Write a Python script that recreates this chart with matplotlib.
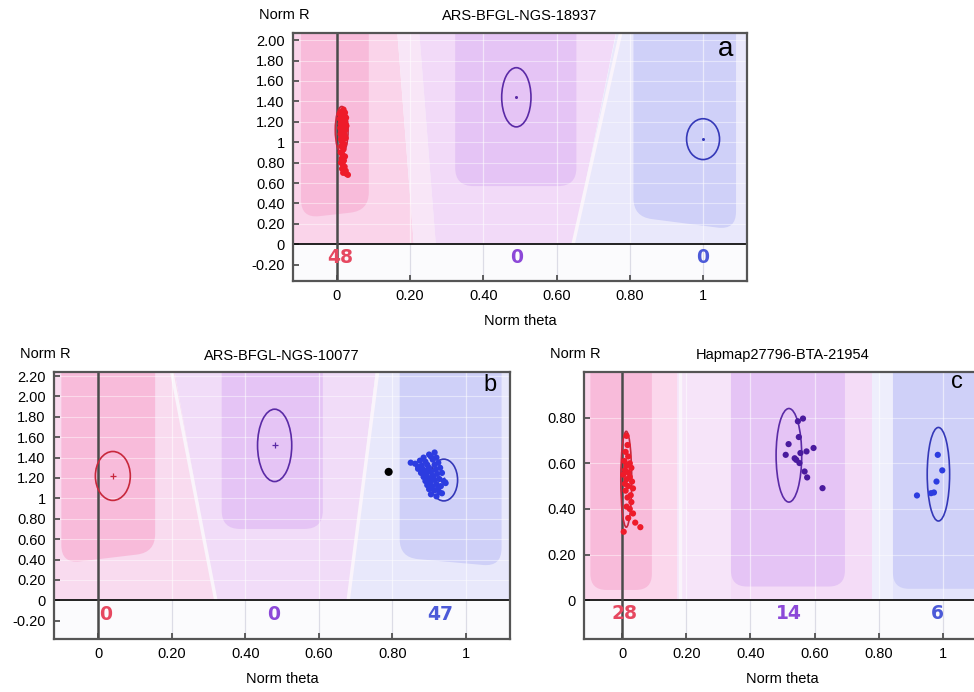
import numpy as np
import matplotlib
matplotlib.use('Agg')
import matplotlib.pyplot as plt
from matplotlib.patches import Ellipse, Polygon, PathPatch
from matplotlib.path import Path
from matplotlib.ticker import FuncFormatter

plt.rcParams['font.family'] = ['Liberation Sans', 'DejaVu Sans']

# ---------------- data ----------------
# panel a : ARS-BFGL-NGS-18937
a_title = 'ARS-BFGL-NGS-18937'
a_counts = [48, 0, 0]
a_yticks = [-0.2, 0, 0.2, 0.4, 0.6, 0.8, 1.0, 1.2, 1.4, 1.6, 1.8, 2.0]
a_aa_theta = [0.018, 0.012, 0.022, 0.010, 0.020, 0.015, 0.025, 0.008, 0.018, 0.012,
              0.022, 0.016, 0.010, 0.024, 0.014, 0.020, 0.009, 0.017, 0.023, 0.012,
              0.019, 0.015, 0.010, 0.021, 0.013, 0.018, 0.024, 0.011, 0.016, 0.014,
              0.020, 0.012, 0.018, 0.010, 0.015, 0.022, 0.013, 0.019, 0.011, 0.016,
              0.021, 0.014, 0.024, 0.017, 0.026, 0.030, 0.008, 0.026]
a_aa_r = [1.32, 1.30, 1.29, 1.27, 1.26, 1.25, 1.24, 1.23, 1.22, 1.21,
          1.20, 1.19, 1.18, 1.17, 1.16, 1.15, 1.14, 1.13, 1.12, 1.11,
          1.10, 1.09, 1.08, 1.07, 1.06, 1.05, 1.04, 1.03, 1.02, 1.00,
          0.98, 0.96, 0.93, 0.90, 0.88, 0.86, 0.84, 0.82, 0.80, 0.78,
          0.76, 0.74, 0.72, 0.70, 0.69, 0.68, 1.28, 1.16]
a_ell_theta = [0.013, 0.49, 1.0]
a_ell_r = [1.12, 1.44, 1.03]
a_ell_w = [0.035, 0.08, 0.09]
a_ell_h = [0.46, 0.58, 0.40]

# panel b : ARS-BFGL-NGS-10077
b_title = 'ARS-BFGL-NGS-10077'
b_counts = [0, 0, 47]
b_yticks = [-0.2, 0, 0.2, 0.4, 0.6, 0.8, 1.0, 1.2, 1.4, 1.6, 1.8, 2.0, 2.2]
b_bb_theta = [0.862, 0.875, 0.885, 0.900, 0.915, 0.905, 0.890, 0.880, 0.895, 0.910,
              0.920, 0.870, 0.885, 0.900, 0.915, 0.925, 0.878, 0.892, 0.905, 0.918,
              0.930, 0.885, 0.898, 0.910, 0.922, 0.935, 0.890, 0.903, 0.915, 0.928,
              0.940, 0.895, 0.908, 0.920, 0.932, 0.945, 0.900, 0.915, 0.928, 0.905,
              0.920, 0.935, 0.870, 0.893, 0.912, 0.925, 0.850]
b_bb_r = [1.34, 1.37, 1.40, 1.43, 1.45, 1.41, 1.36, 1.32, 1.33, 1.38,
          1.40, 1.29, 1.28, 1.30, 1.33, 1.35, 1.25, 1.24, 1.26, 1.28,
          1.30, 1.21, 1.20, 1.22, 1.24, 1.25, 1.17, 1.16, 1.18, 1.19,
          1.17, 1.13, 1.12, 1.14, 1.12, 1.15, 1.09, 1.08, 1.06, 1.04,
          1.02, 1.05, 1.31, 1.27, 1.20, 1.10, 1.35]
b_nc_theta = [0.79]
b_nc_r = [1.26]
b_ell_theta = [0.04, 0.48, 0.94]
b_ell_r = [1.22, 1.52, 1.18]
b_ell_w = [0.095, 0.093, 0.075]
b_ell_h = [0.48, 0.71, 0.41]

# panel c : Hapmap27796-BTA-21954
c_title = 'Hapmap27796-BTA-21954'
c_counts = [28, 14, 6]
c_yticks = [0, 0.2, 0.4, 0.6, 0.8]
c_aa_theta = [0.013, 0.016, 0.010, 0.018, 0.006, 0.023, 0.013, 0.028, 0.008, 0.018,
              0.003, 0.023, 0.013, 0.030, 0.008, 0.018, 0.033, 0.010, 0.026, 0.016,
              0.028, 0.013, 0.023, 0.033, 0.018, 0.040, 0.056, 0.004]
c_aa_r = [0.72, 0.68, 0.65, 0.63, 0.61, 0.60, 0.59, 0.58, 0.57, 0.56,
          0.55, 0.54, 0.53, 0.52, 0.51, 0.50, 0.49, 0.48, 0.46, 0.45,
          0.43, 0.41, 0.40, 0.38, 0.36, 0.34, 0.32, 0.30]
c_ab_theta = [0.564, 0.548, 0.551, 0.519, 0.510, 0.543, 0.556, 0.575, 0.597, 0.553,
              0.569, 0.577, 0.625, 0.538]
c_ab_r = [0.796, 0.784, 0.715, 0.684, 0.637, 0.615, 0.645, 0.652, 0.667, 0.601,
          0.564, 0.538, 0.491, 0.622]
c_bb_theta = [0.985, 0.999, 0.981, 0.973, 0.964, 0.920]
c_bb_r = [0.637, 0.569, 0.520, 0.472, 0.469, 0.459]
c_ell_theta = [0.012, 0.52, 0.987]
c_ell_r = [0.53, 0.635, 0.552]
c_ell_w = [0.034, 0.08, 0.07]
c_ell_h = [0.42, 0.41, 0.41]

xticks = [0, 0.2, 0.4, 0.6, 0.8, 1.0]

# ---------------- styling ----------------
W, H = 974, 692
pt_col = ['#ee1b2a', '#4a1a9e', '#2c3ce0']
ell_col = ['#c8283c', '#5a2aa6', '#3438b8']
cnt_col = ['#e64860', '#8c48d8', '#4c5ad8']
box_col = ['#f8bbda', '#e5c4f5', '#cfd0f8']

layout = {
    'a': dict(rect=(293, 747, 33, 281), ylim=(-0.36, 2.07), count_y=-0.125,
              count_x=[0.01, 0.49, 1.0], letter=(0.952, 0.935), letter_size=20,
              center='.',
              zones=[([(-0.12, 0), (0.21, 0), (0.16, 2.3), (-0.12, 2.3)], '#fad4ea'),
                     ([(0.21, 0), (0.27, 0), (0.22, 2.3), (0.16, 2.3)], '#f8e6f7'),
                     ([(0.27, 0), (0.645, 0), (0.775, 2.3), (0.22, 2.3)], '#f2daf8'),
                     ([(0.645, 0), (1.2, 0), (1.2, 2.3), (0.775, 2.3)], '#e9e8fb')],
              lines=[((0.645, 0), (0.775, 2.07))],
              boxes=[(-0.098, 0.087, 0.255, 0.33), (0.323, 0.654, 0.57, 0.57),
                     (0.81, 1.09, 0.27, 0.14)]),
    'b': dict(rect=(54, 510, 372, 639), ylim=(-0.38, 2.24), count_y=-0.138,
              count_x=[0.02, 0.478, 0.93], letter=(0.956, 0.95), letter_size=17,
              center='+',
              zones=[([(-0.12, 0), (0.32, 0), (0.20, 2.4), (-0.12, 2.4)], '#f9dbef'),
                     ([(0.32, 0), (0.68, 0), (0.76, 2.4), (0.20, 2.4)], '#f1dcf8'),
                     ([(0.68, 0), (1.2, 0), (1.2, 2.4), (0.76, 2.4)], '#e8e8fb')],
              lines=[((0.32, 0), (0.20, 2.24)), ((0.68, 0), (0.76, 2.24))],
              boxes=[(-0.10, 0.155, 0.36, 0.47), (0.336, 0.611, 0.70, 0.70),
                     (0.82, 1.097, 0.42, 0.33)]),
    'c': dict(rect=(584, 981, 372, 639), ylim=(-0.17, 1.0), count_y=-0.059,
              count_x=[0.008, 0.52, 0.983], letter=(0.94, 0.962), letter_size=17,
              center=None,
              zones=[([(-0.12, 0), (0.17, 0), (0.17, 1.1), (-0.12, 1.1)], '#fbd7ec'),
                     ([(0.17, 0), (0.34, 0), (0.34, 1.1), (0.17, 1.1)], '#f6e4f9'),
                     ([(0.34, 0), (0.78, 0), (0.78, 1.1), (0.34, 1.1)], '#f4dcf7'),
                     ([(0.78, 0), (0.845, 0), (0.845, 1.1), (0.78, 1.1)], '#eeeefc'),
                     ([(0.845, 0), (1.2, 0), (1.2, 1.1), (0.845, 1.1)], '#e4e4fb')],
              lines=[((0.18, 0), (0.18, 1.0))],
              boxes=[(-0.10, 0.092, 0.045, 0.045), (0.339, 0.695, 0.06, 0.06),
                     (0.845, 1.25, 0.05, 0.05)]),
}


def fmt(v, pos):
    if abs(v) < 1e-9 or abs(v - 1) < 1e-9:
        return str(int(round(v)))
    return f'{v:.2f}'


def rounded_box(x0, x1, yl, yr, top, rx, ry):
    s = (yr - yl) / (x1 - x0)
    verts = [(x0, top), (x0, yl + ry), (x0, yl), (x0 + rx, yl + s * rx),
             (x1 - rx, yr - s * rx), (x1, yr), (x1, yr + ry), (x1, top), (x0, top)]
    codes = [Path.MOVETO, Path.LINETO, Path.CURVE3, Path.CURVE3, Path.LINETO,
             Path.CURVE3, Path.CURVE3, Path.LINETO, Path.CLOSEPOLY]
    return Path(verts, codes)


def panel(key, title, yticks, groups, ells, counts, extra=None):
    lo = layout[key]
    l, r, t, b = lo['rect']
    ax = fig.add_axes([l / W, 1 - b / H, (r - l) / W, (b - t) / H])
    xlim = (-0.12, 1.12)
    ylim = lo['ylim']
    ax.set_xlim(*xlim)
    ax.set_ylim(*ylim)
    ax.set_facecolor('#fbfbfd')
    top = ylim[1] + 0.3

    for verts, col in lo['zones']:
        ax.add_patch(Polygon(verts, closed=True, fc=col, ec='none', zorder=0))
    for p0, p1 in lo['lines']:
        ax.plot([p0[0], p1[0]], [p0[1], p1[1]], color='#faf4fb', lw=2.5, zorder=0.5)

    px_x = (r - l) / (xlim[1] - xlim[0])
    px_y = (b - t) / (ylim[1] - ylim[0])
    rx = 0.05
    ry = rx * px_x / px_y
    for (x0, x1, yl, yr), col in zip(lo['boxes'], box_col):
        ax.add_patch(PathPatch(rounded_box(x0, x1, yl, yr, top, rx, ry),
                               fc=col, ec='none', zorder=1))

    # white band below R = 0
    ax.axhspan(ylim[0], 0, color='#fbfbfd', zorder=1.2)

    # faint grid
    for xv in xticks:
        ax.plot([xv, xv], [0, ylim[1]], color='white', lw=0.9, alpha=0.55, zorder=1.5)
        ax.plot([xv, xv], [ylim[0], 0], color='#dcdce6', lw=0.9, zorder=1.5)
    for yv in yticks:
        if yv > 0:
            ax.axhline(yv, color='white', lw=0.8, alpha=0.45, zorder=1.5)

    ax.axhline(0, color='#111111', lw=1.3, zorder=3)
    ax.axvline(0, color='#4a4a4a', lw=1.8, zorder=3)

    for (cx, cy, w, h), col in zip(ells, ell_col):
        ax.add_patch(Ellipse((cx, cy), w, h, fill=False, ec=col, lw=1.2, zorder=4))
        if lo['center'] == '+':
            ax.plot(cx, cy, marker='+', ms=4, mew=0.9, color=col, zorder=4)
        elif lo['center'] == '.':
            ax.plot(cx, cy, marker='o', ms=2.2, mew=0, color=col, zorder=4)

    for gi, th, rr in groups:
        ax.scatter(th, rr, s=20, color=pt_col[gi], edgecolors='none', zorder=5)
    if extra is not None:
        ax.scatter(extra[0], extra[1], s=34, color='black', edgecolors='none', zorder=5)

    for n, cx, col in zip(counts, lo['count_x'], cnt_col):
        ax.text(cx, lo['count_y'], str(n), color=col, fontsize=13.5, fontweight='bold',
                family='DejaVu Sans', ha='center', va='center', zorder=6)

    ax.set_xticks(xticks)
    ax.set_yticks(yticks)
    ax.xaxis.set_major_formatter(FuncFormatter(fmt))
    ax.yaxis.set_major_formatter(FuncFormatter(fmt))
    ax.tick_params(direction='in', length=4, width=1.2, color='#444444',
                   labelsize=10.5, pad=6)
    for sp in ax.spines.values():
        sp.set_color('#555555')
        sp.set_linewidth(1.6)
        sp.set_zorder(7)

    ax.set_xlabel('Norm theta', fontsize=10.5, labelpad=8)
    ax.annotate('Norm R', xy=(0, 1), xycoords='axes fraction', xytext=(-34 * 0.72, 13),
                textcoords='offset points', ha='left', va='center', fontsize=10.5)
    ax.set_title(title, fontsize=10.5, pad=9)
    ax.text(lo['letter'][0], lo['letter'][1], key, transform=ax.transAxes,
            fontsize=lo['letter_size'], ha='center', va='center', zorder=8)
    return ax


fig = plt.figure(figsize=(W / 100, H / 100), dpi=100)

panel('a', a_title, a_yticks, [(0, a_aa_theta, a_aa_r)],
      list(zip(a_ell_theta, a_ell_r, a_ell_w, a_ell_h)), a_counts)
panel('b', b_title, b_yticks, [(2, b_bb_theta, b_bb_r)],
      list(zip(b_ell_theta, b_ell_r, b_ell_w, b_ell_h)), b_counts,
      extra=(b_nc_theta, b_nc_r))
panel('c', c_title, c_yticks,
      [(0, c_aa_theta, c_aa_r), (1, c_ab_theta, c_ab_r), (2, c_bb_theta, c_bb_r)],
      list(zip(c_ell_theta, c_ell_r, c_ell_w, c_ell_h)), c_counts)

fig.savefig('out.png', dpi=100)
